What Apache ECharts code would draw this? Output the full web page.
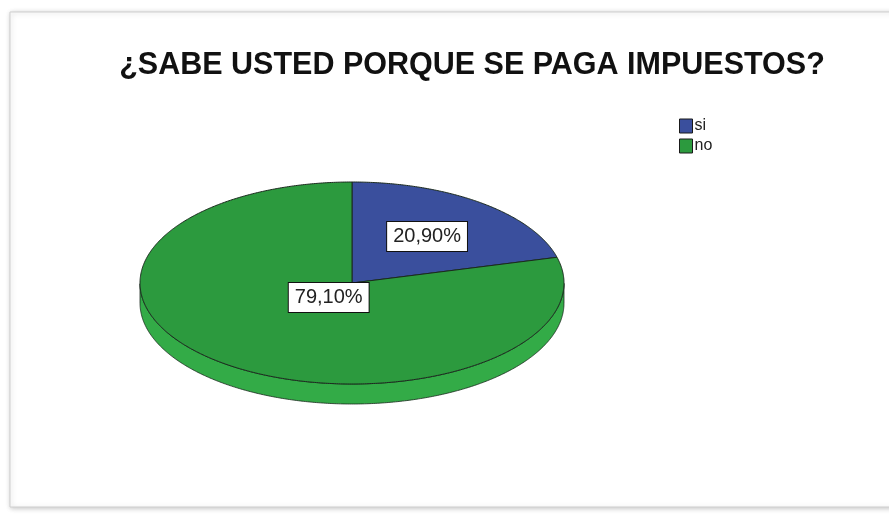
<!DOCTYPE html>
<html>
<head>
<meta charset="utf-8">
<script src="https://cdn.jsdelivr.net/npm/echarts@6/dist/echarts.min.js"></script>
<style>
  html, body { margin: 0; padding: 0; background: #ffffff; }
  #chart { width: 889px; height: 518px; }
</style>
</head>
<body>
<div id="chart"></div>
<script>
// Survey answers and their shares (percent)
const categories = ['si', 'no'];
const percentages = [20.9, 79.1];
const titleText = '¿SABE USTED PORQUE SE PAGA IMPUESTOS?';

// Colours of the top face and of the rim for each answer
const topColors = ['#3a4f9d', '#2c9a3e'];
const rimColors = ['#34478f', '#33ab47'];
const outline = '#1b2a1e';

// Ellipse geometry of the tilted pie
const pie = { cx: 352, cy: 283, rx: 212, ry: 101, depth: 20 };
// How far out along the mid-angle each value box sits (fraction of radius)
const labelReach = [0.58, 0.18];

const total = percentages.reduce((a, b) => a + b, 0);

function pt(deg, dy) {
  const r = deg * Math.PI / 180;
  return [pie.cx + pie.rx * Math.cos(r), pie.cy - pie.ry * Math.sin(r) + (dy || 0)];
}

function formatPct(v) {
  return v.toFixed(2).replace('.', ',') + '%';
}

// Build the top face, visible rim and value box for slice i
function buildSlice(i) {
  let before = 0;
  for (let k = 0; k < i; k++) before += percentages[k];
  const start = 90 - 360 * before / total;
  const end = 90 - 360 * (before + percentages[i]) / total;

  const arc = [];
  const steps = Math.max(2, Math.ceil((start - end) / 0.5));
  for (let s = 0; s <= steps; s++) arc.push(start + (end - start) * s / steps);

  const children = [];

  // rim: runs of the arc that lie on the front half of the ellipse
  let run = [];
  const runs = [];
  arc.forEach(a => {
    if (Math.sin(a * Math.PI / 180) <= 0.0001) run.push(a);
    else if (run.length) { runs.push(run); run = []; }
  });
  if (run.length) runs.push(run);
  runs.forEach(r => {
    if (r.length < 2) return;
    const pts = r.map(a => pt(a, 0)).concat(r.slice().reverse().map(a => pt(a, pie.depth)));
    children.push({
      type: 'polygon', z2: 1,
      shape: { points: pts },
      style: { fill: rimColors[i], stroke: outline, lineWidth: 0.8 }
    });
  });

  // top face
  const facePts = [[pie.cx, pie.cy]].concat(arc.map(a => pt(a, 0)));
  children.push({
    type: 'polygon', z2: 10,
    shape: { points: facePts },
    style: { fill: topColors[i], stroke: outline, lineWidth: 1 }
  });

  // value box
  const mid = (start + end) / 2;
  const mr = mid * Math.PI / 180;
  const f = labelReach[i];
  children.push({
    type: 'text', z2: 20,
    style: {
      x: pie.cx + f * pie.rx * Math.cos(mr),
      y: pie.cy - f * pie.ry * Math.sin(mr),
      text: formatPct(percentages[i]),
      align: 'center', verticalAlign: 'middle',
      fill: '#222222',
      font: '20px "Liberation Sans", Arial, sans-serif',
      backgroundColor: '#ffffff',
      borderColor: '#111111', borderWidth: 1,
      padding: [5, 6, 4, 6]
    }
  });

  return { type: 'group', children };
}

const chart = echarts.init(document.getElementById('chart'), null, { renderer: 'canvas' });

chart.setOption({
  animation: false,
  backgroundColor: '#ffffff',
  graphic: [{
    type: 'rect', z: -10,
    shape: { x: 10, y: 12, width: 900, height: 495 },
    style: {
      fill: '#ffffff', stroke: '#cfcfcf', lineWidth: 1,
      shadowBlur: 5, shadowColor: 'rgba(0,0,0,0.22)', shadowOffsetX: 1, shadowOffsetY: 1
    }
  }],
  title: {
    text: titleText,
    left: 467, top: 45,
    textAlign: 'center',
    textStyle: {
      fontFamily: '"Liberation Sans", Arial, sans-serif',
      fontSize: 30.5, fontWeight: 'bold', color: '#111111'
    }
  },
  legend: {
    data: categories,
    orient: 'vertical',
    left: 679, top: 118,
    itemWidth: 13, itemHeight: 14, itemGap: 4,
    padding: 0,
    icon: 'rect',
    selectedMode: false,
    itemStyle: { borderColor: '#1a1a1a', borderWidth: 1 },
    textStyle: {
      fontFamily: '"Liberation Sans", Arial, sans-serif',
      fontSize: 16, color: '#222222', padding: [0, 0, 0, -3]
    }
  },
  series: categories.map((name, i) => ({
    name: name,
    type: 'custom',
    coordinateSystem: 'none',
    silent: true,
    itemStyle: { color: topColors[i] },
    data: [[i, percentages[i]]],
    renderItem: (params, api) => buildSlice(api.value(0))
  }))
});
</script>
</body>
</html>
